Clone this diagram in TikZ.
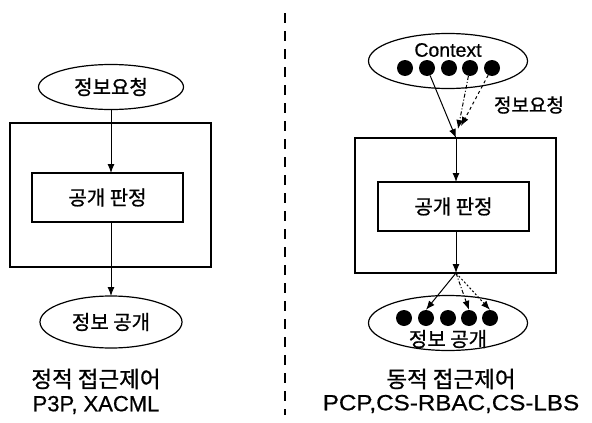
\documentclass[tikz,border=0pt]{standalone}
\usepackage{fontspec}
\setmainfont[FakeBold=0.9]{Noto Sans CJK KR}
\newfontfamily\latinfont[FakeBold=0.6]{Liberation Sans}
\newfontfamily\latinwide[FakeBold=0.6,FakeStretch=1.1]{Liberation Sans}
\usetikzlibrary{arrows.meta,shapes.geometric}
\begin{document}
\begin{tikzpicture}[x=1pt,y=-1pt,
  ell/.style={ellipse,draw,line width=1.2pt,inner sep=0pt},
  outerbox/.style={rectangle,draw,line width=2pt,inner sep=0pt},
  innerbox/.style={rectangle,draw,line width=1.2pt,inner sep=0pt},
  dotnode/.style={circle,fill=black,inner sep=0pt,minimum size=16pt},
  arr/.style={line width=1pt,-{Latex[length=9pt,width=7pt]}},
  lbl/.style={inner sep=0pt,font=\fontsize{20}{20}\selectfont},
  captxt/.style={inner sep=0pt,font=\fontsize{22.5}{22.5}\selectfont},
  sep/.style={line width=2.5pt,dash pattern=on 10pt off 8pt}]
\useasboundingbox (0,0) rectangle (592,423);
\fill[white] (0,0) rectangle (592,423);

% ---------- left: static ----------
\node[outerbox,minimum width=201pt,minimum height=144pt] (lbox) at (110.5,195) {};
\node[ell,minimum width=145pt,minimum height=45pt] (lreq) at (111,87) {};
\node[lbl] at (lreq) {정보요청};
\node[innerbox,minimum width=151pt,minimum height=49pt] (linner) at (107.5,197.5) {};
\node[lbl] at (linner) {공개 판정};
\node[ell,minimum width=142pt,minimum height=52pt] (lres) at (111,322) {};
\node[lbl] at (lres) {정보 공개};
\coordinate (lstart) at (111,110);
\coordinate (lin) at (111,173);
\coordinate (lout) at (111,222);
\coordinate (lend) at (111,296);
\draw[arr] (lstart) -- (lin);
\draw[arr] (lout) -- (lend);
\node[captxt] (lcap1) at (96,379) {정적 접근제어};
\node[inner sep=0pt,font=\latinfont\fontsize{22}{22}\selectfont] (lcap2) at (96,405) {P3P, XACML};

% ---------- separator ----------
\coordinate (dtop) at (285,13);
\coordinate (dbot) at (285,415);
\draw[sep] (dtop) -- (dbot);

% ---------- right: dynamic ----------
\node[outerbox,minimum width=201pt,minimum height=135pt] (rbox) at (455.5,205.5) {};
\node[ell,minimum width=159pt,minimum height=55pt] (ctx) at (448,61) {};
\node[inner sep=0pt,font=\latinfont\fontsize{19.5}{19.5}\selectfont] (ctxt) at (448,50) {Context};
\foreach \i/\x in {1/405,2/427,3/449,4/470,5/492}
  \node[dotnode] (c\i) at (\x,68) {};
\node[lbl,font=\fontsize{19}{19}\selectfont] (reqlbl) at (529,105) {정보요청};
\node[innerbox,minimum width=151pt,minimum height=49pt] (rinner) at (453.5,206.5) {};
\node[lbl] at (rinner) {공개 판정};
\node[ell,minimum width=159pt,minimum height=55pt] (rres) at (448,323) {};
\foreach \i/\x in {1/404,2/426,3/448,4/469,5/490}
  \node[dotnode] (d\i) at (\x,318) {};
\node[lbl] (rrestxt) at (448,339) {정보 공개};

\coordinate (tin) at (456,138);
\coordinate (tdash1) at (458,129);
\coordinate (tdash2) at (461,126);
\coordinate (rin) at (456,182);
\coordinate (rout) at (456,231);
\coordinate (bout) at (456,273);
\draw[arr] (c2) -- (tin);
\draw[arr,dash pattern=on 4pt off 2pt on 1pt off 2pt] (c4) -- (tdash1);
\draw[arr,dash pattern=on 3pt off 3pt] (c5) -- (tdash2);
\draw[arr] (tin) -- (rin);
\draw[arr] (rout) -- (bout);
\draw[arr] (bout) -- (d2.north);
\draw[arr,dash pattern=on 4pt off 2pt on 1pt off 2pt] (bout) -- (d4.north);
\draw[arr,dash pattern=on 2pt off 2pt] (bout) -- (d5.north);

\node[captxt] (rcap1) at (451,379) {동적 접근제어};
\node[inner sep=0pt,font=\latinwide\fontsize{22}{22}\selectfont] (rcap2) at (451,404) {PCP,CS-RBAC,CS-LBS};
\end{tikzpicture}
\end{document}
